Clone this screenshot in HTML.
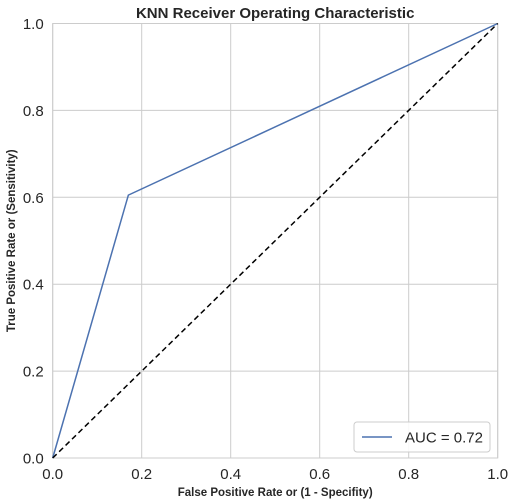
<!DOCTYPE html>
<html><head><meta charset="utf-8"><style>
body{margin:0;background:#fff;}
svg{display:block;font-family:"Liberation Sans",Arial,sans-serif;}
</style></head><body>
<svg id="chart" width="516" height="503"></svg>
<script>
const fprValues=[0,0.17,1];
const tprValues=[0,0.605,1];
const diagX=[0,1];
const diagY=[0,1];
const tickValues=[0,0.2,0.4,0.6,0.8,1.0];
const tickLabels=["0.0","0.2","0.4","0.6","0.8","1.0"];
const aucLabel="AUC = 0.72";
const L=52.7,R=497.7,T=23.5,B=458;
const sx=v=>L+v*(R-L), sy=v=>B-v*(B-T);
const svg=document.getElementById('chart');
const NS='http://www.w3.org/2000/svg';
function mk(tag,attrs,parent){const e=document.createElementNS(NS,tag);for(const k in attrs)e.setAttribute(k,attrs[k]);(parent||svg).appendChild(e);return e;}
tickValues.forEach((v,i)=>{
  const gx=mk('line',{x1:sx(v),x2:sx(v),y1:T,y2:B,stroke:'#cccccc','stroke-width':1});
  
  
  const gy=mk('line',{x1:L,x2:R,y1:sy(v),y2:sy(v),stroke:'#cccccc','stroke-width':1});
  
  
  const tx=mk('text',{x:sx(v),y:B+21,'text-anchor':'middle','font-size':15,fill:'#262626'});
  tx.textContent=tickLabels[i];
  
  
  const ty=mk('text',{x:L-9,y:sy(v)+5.5,'text-anchor':'end','font-size':15,fill:'#262626'});
  ty.textContent=tickLabels[i];
  
  
});
const frame=mk('rect',{x:L,y:T,width:R-L,height:B-T,fill:'none',stroke:'#cccccc','stroke-width':1});


const roc=mk('polyline',{points:fprValues.map((v,i)=>sx(v)+','+sy(tprValues[i])).join(' '),fill:'none',stroke:'#4c72b0','stroke-width':1.5});


const diag=mk('polyline',{points:diagX.map((v,i)=>sx(v)+','+sy(diagY[i])).join(' '),fill:'none',stroke:'#000','stroke-width':1.5,'stroke-dasharray':'5.5,3.5'});


const title=mk('text',{x:(L+R)/2,y:18,'text-anchor':'middle','font-size':15,'font-weight':'bold',fill:'#262626'});
title.textContent='KNN Receiver Operating Characteristic';


const xt=mk('text',{x:(L+R)/2,y:496,'text-anchor':'middle','font-size':11.5,'font-weight':'bold',fill:'#262626'});
xt.textContent='False Positive Rate or (1 - Specifity)';


const yt=mk('text',{x:0,y:0,'text-anchor':'middle','font-size':11.5,'font-weight':'bold',fill:'#262626',transform:`translate(15,${(T+B)/2}) rotate(-90)`});
yt.textContent='True Positive Rate or (Sensitivity)';


const lg=mk('g',{});


mk('rect',{x:354,y:422,width:136,height:30,rx:3,fill:'#fff','fill-opacity':0.85,stroke:'#cccccc'},lg);
mk('line',{x1:362,x2:392,y1:437,y2:437,stroke:'#4c72b0','stroke-width':1.5},lg);
const lt=mk('text',{x:405,y:442.5,'font-size':15,fill:'#262626'},lg);
lt.textContent=aucLabel;


</script>
</body></html>
